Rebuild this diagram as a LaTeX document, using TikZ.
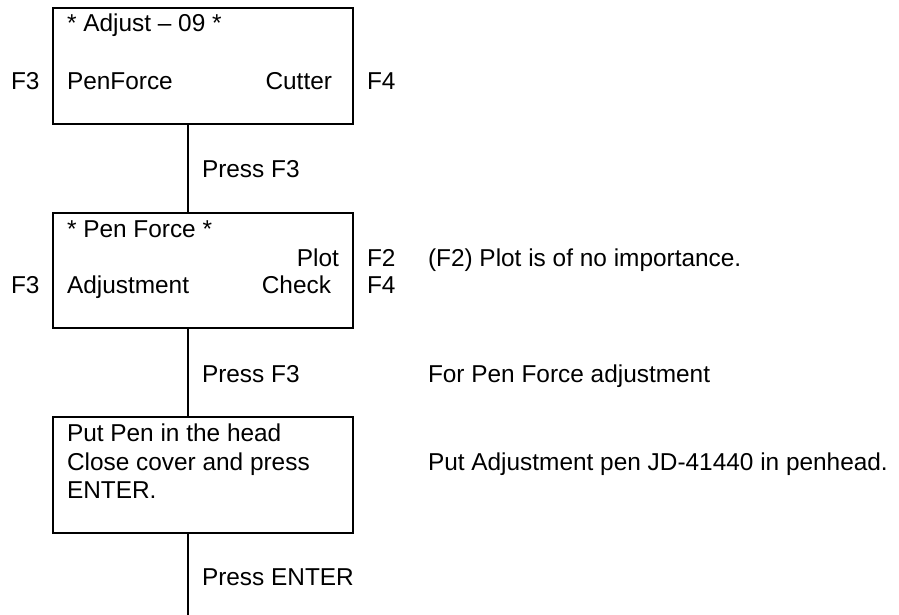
\documentclass[tikz,border=0pt]{standalone}
\usepackage{fontspec}
\setmainfont{Liberation Sans}
\begin{document}
\begin{tikzpicture}[x=1pt,y=-1pt,
  every node/.style={inner sep=0pt,outer sep=0pt,font=\fontsize{24.4}{28.5}\selectfont},
  panel/.style={draw,line width=1.5pt,rectangle,minimum width=300pt,minimum height=116pt,anchor=north west},
  lt/.style={anchor=base west},
  rt/.style={anchor=base east},
  link/.style={line width=1.5pt}]
\useasboundingbox (0,0) rectangle (899,615);
% boxes
\node[panel] (b1) at (53,8) {};
\node[panel,minimum height=115pt] (b2) at (53,213) {};
\node[panel] (b3) at (53,417) {};
% box 1 texts
\node[lt] (t1a) at (67,32) {* Adjust – 09 *};
\node[lt] (t1b) at (67,90) {PenForce};
\node[rt] (t1c) at (332,90) {Cutter};
\node[lt] (k1l) at (11,90) {F3};
\node[lt] (k1r) at (367,90) {F4};
% link 1
\draw[link] ([xshift=135pt]b1.south west) -- ([xshift=135pt]b2.north west);
\node[lt] (p1) at (202,177) {Press F3};
% box 2 texts
\node[lt] (t2a) at (67,237) {* Pen Force *};
\node[rt] (t2b) at (339,266) {Plot};
\node[lt] (t2c) at (67,293) {Adjustment};
\node[rt] (t2d) at (331,293) {Check};
\node[lt] (k2l) at (11,293) {F3};
\node[lt] (k2a) at (367,266) {F2};
\node[lt] (k2b) at (367,293) {F4};
\node[lt] (n2) at (428,266) {(F2) Plot is of no importance.};
% link 2
\draw[link] ([xshift=135pt]b2.south west) -- ([xshift=135pt]b3.north west);
\node[lt] (p2) at (202,382) {Press F3};
\node[lt] (n3) at (428,382) {For Pen Force adjustment};
% box 3 texts
\node[lt] (t3a) at (67,441) {Put Pen in the head};
\node[lt] (t3b) at (67,470) {Close cover and press};
\node[lt] (t3c) at (67,498) {ENTER.};
\node[lt] (n4) at (428,470) {Put Adjustment pen JD-41440 in penhead.};
% link 3
\coordinate (end) at (188,615);
\draw[link] ([xshift=135pt]b3.south west) -- (end);
\node[lt] (p3) at (202,585) {Press ENTER};
\end{tikzpicture}
\end{document}
